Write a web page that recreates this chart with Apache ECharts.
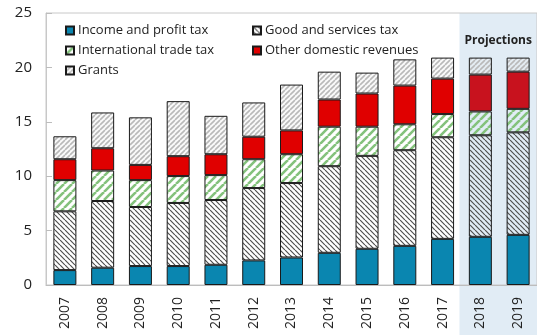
<!DOCTYPE html>
<html>
<head>
<meta charset="utf-8">
<script src="https://cdn.jsdelivr.net/npm/echarts@6/dist/echarts.min.js"></script>
<style>
  html, body { margin: 0; padding: 0; background: #fff; }
  #chart { width: 537px; height: 335px; }
</style>
</head>
<body>
<div id="chart"></div>
<script>
// Government revenue by source, % of GDP
const years = ['2007','2008','2009','2010','2011','2012','2013','2014','2015','2016','2017','2018','2019'];
const incomeTax = [1.37, 1.59, 1.74, 1.74, 1.86, 2.26, 2.53, 2.96, 3.33, 3.60, 4.24, 4.43, 4.61];
const goodsTax  = [5.40, 6.13, 5.43, 5.80, 5.95, 6.65, 6.84, 7.96, 8.54, 8.79, 9.34, 9.33, 9.42];
const tradeTax  = [2.87, 2.80, 2.47, 2.47, 2.29, 2.65, 2.65, 3.63, 2.68, 2.38, 2.13, 2.19, 2.16];
const otherRev  = [1.92, 2.05, 1.40, 1.83, 1.92, 2.07, 2.19, 2.50, 3.05, 3.56, 3.26, 3.39, 3.42];
const grants    = [2.11, 3.29, 4.37, 5.06, 3.53, 3.15, 4.21, 2.56, 1.92, 2.41, 1.93, 1.56, 1.29];
const projectionYears = ['2018', '2019'];
const yTicks = [0, 5, 10, 15, 20, 25];

const FONT = "'Open Sans', 'Noto Sans', sans-serif";

// Diagonal hatch tile; dir '/' or '\\'
function hatch(size, color, width, dir, bg) {
  const c = document.createElement('canvas');
  c.width = size; c.height = size;
  const g = c.getContext('2d');
  if (bg) { g.fillStyle = bg; g.fillRect(0, 0, size, size); }
  g.strokeStyle = color;
  g.lineWidth = width;
  g.beginPath();
  for (let k = -size; k <= size; k += size) {
    if (dir === '/') { g.moveTo(k, size); g.lineTo(k + size, 0); }
    else { g.moveTo(k, 0); g.lineTo(k + size, size); }
  }
  g.stroke();
  return { image: c, repeat: 'repeat' };
}

const goodsFill  = hatch(5, '#505050', 1.2, '\\', null);
const tradeFill  = hatch(8, '#84c27c', 2.6, '/', null);
const grantsFill = hatch(5, '#b9b9b9', 1.6, '/', 'rgba(235,235,235,0.3)');

function withProjection(values, projColor) {
  return values.map((v, i) => {
    if (projColor && projectionYears.includes(years[i])) {
      return { value: v, itemStyle: { color: projColor } };
    }
    return v;
  });
}

const border = { borderColor: '#1a1a1a', borderWidth: 1 };
function barSeries(name, data, color, projColor) {
  return {
    name, type: 'bar', stack: 'rev', barWidth: 23,
    data: withProjection(data, projColor),
    itemStyle: Object.assign({ color }, border),
    emphasis: { disabled: true }
  };
}

const chart = echarts.init(document.getElementById('chart'));
chart.setOption({
  animation: false,
  textStyle: { fontFamily: FONT },
  grid: { left: 46, top: 13, width: 494, bottom: 50, show: true, borderColor: '#c8c8c8', borderWidth: 1, backgroundColor: 'transparent' },
  legend: [
    {
      data: ['Income and profit tax', 'International trade tax', 'Grants'],
      orient: 'vertical', left: 60, top: 19, itemWidth: 8, itemHeight: 8, itemGap: 7,
      icon: 'rect', selectedMode: false,
      textStyle: { fontSize: 13, color: '#222', fontFamily: FONT, padding: [0, 0, 0, -1] }
    },
    {
      data: ['Good and services tax', 'Other domestic revenues'],
      orient: 'vertical', left: 247, top: 19, itemWidth: 8, itemHeight: 8, itemGap: 7,
      icon: 'rect', selectedMode: false,
      textStyle: { fontSize: 13, color: '#222', fontFamily: FONT, padding: [0, 0, 0, -1] }
    }
  ],
  xAxis: {
    type: 'category', data: years,
    axisLine: { lineStyle: { color: '#bdbdbd' } },
    axisTick: { inside: true, interval: 1, length: 6, lineStyle: { color: '#bdbdbd' } },
    axisLabel: { interval: 0, rotate: 90, fontSize: 14, color: '#222', margin: 12, fontFamily: FONT }
  },
  yAxis: {
    type: 'value', min: yTicks[0], max: yTicks[yTicks.length - 1], interval: 5,
    splitLine: { show: false },
    axisLine: { show: true, lineStyle: { color: '#c8c8c8' } },
    axisTick: { show: true, inside: true, length: 6, lineStyle: { color: '#bdbdbd' } },
    axisLabel: { fontSize: 15, color: '#222', margin: 14, fontFamily: FONT }
  },
  series: [
    barSeries('Income and profit tax', incomeTax, '#0a86b0'),
    barSeries('Good and services tax', goodsTax, goodsFill),
    barSeries('International trade tax', tradeTax, tradeFill),
    barSeries('Other domestic revenues', otherRev, '#e00000', '#c8121e'),
    barSeries('Grants', grants, grantsFill)
  ]
});

// Shaded projection band, placed through the axis scales
const cPrev = chart.convertToPixel({ xAxisIndex: 0 }, years[years.indexOf(projectionYears[0]) - 1]);
const cFirst = chart.convertToPixel({ xAxisIndex: 0 }, projectionYears[0]);
const bandLeft = (cPrev + cFirst) / 2 - 2;
const bandTop = chart.convertToPixel({ yAxisIndex: 0 }, yTicks[yTicks.length - 1]);
const W = chart.getWidth(), H = chart.getHeight();
chart.setOption({
  graphic: [
    {
      type: 'rect', z: -10, silent: true,
      shape: { x: bandLeft, y: bandTop, width: W - bandLeft, height: H - bandTop },
      style: { fill: '#e1ecf5' }
    },
    {
      type: 'text', z: 10, silent: true,
      x: (bandLeft + W) / 2, y: bandTop + 28,
      style: { text: 'Projections', font: "bold 12px " + FONT, fill: '#222', align: 'center', verticalAlign: 'middle' }
    }
  ]
});
</script>
</body>
</html>
